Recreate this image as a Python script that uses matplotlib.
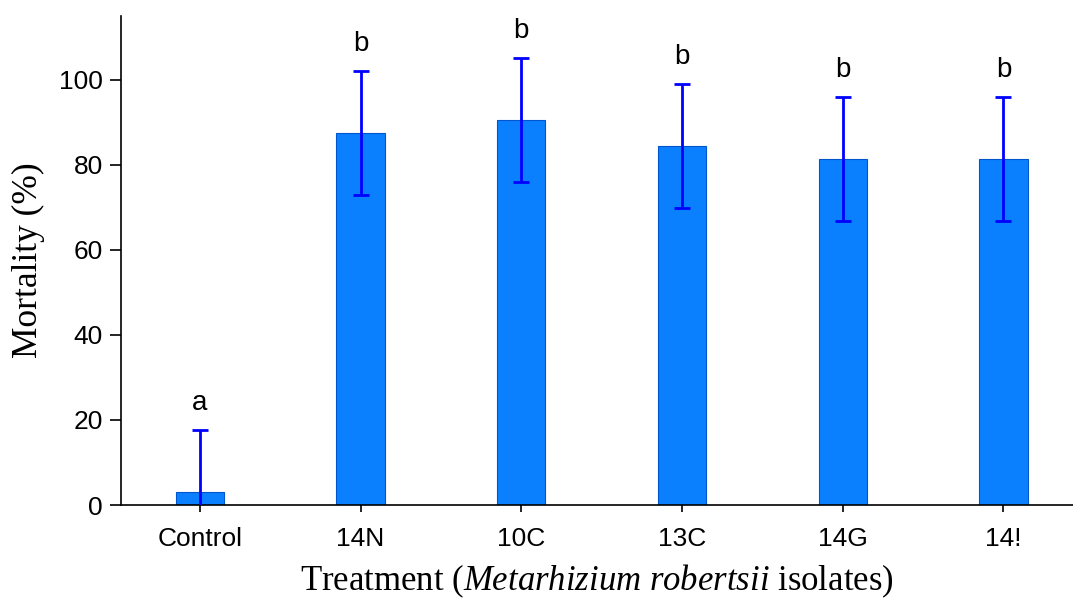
import matplotlib
matplotlib.use('Agg')
import matplotlib.pyplot as plt
import numpy as np

# data
treatments = ['Control', '14N', '10C', '13C', '14G', '14!']
mortality = [3.0, 87.5, 90.6, 84.4, 81.3, 81.3]
sd = [14.6, 14.6, 14.6, 14.6, 14.6, 14.6]
letters = ['a', 'b', 'b', 'b', 'b', 'b']

plt.rcParams['font.family'] = 'Liberation Sans'
plt.rcParams['mathtext.fontset'] = 'custom'
plt.rcParams['mathtext.rm'] = 'Liberation Serif'
plt.rcParams['mathtext.it'] = 'Liberation Serif:italic'

fig = plt.figure(figsize=(10.73, 5.99), dpi=100)
ax = fig.add_axes([0.1128, 0.1569, 0.8868, 0.8164])

x = np.arange(len(treatments))
ax.bar(x, mortality, width=0.3, color='#0A80FF', edgecolor='#0055CC', linewidth=0.8, zorder=2)
ax.errorbar(x, mortality, yerr=sd, fmt='none', ecolor='#0000FF',
            elinewidth=2, capsize=6, capthick=2, zorder=3)

# significance letters
for xi, m, s, l in zip(x, mortality, sd, letters):
    ax.text(xi, m + s + 3.3, l, ha='center', va='bottom', fontsize=20)

ax.set_xlim(-0.49, 5.43)
ax.set_ylim(0, 115)
ax.set_yticks([0, 20, 40, 60, 80, 100])
ax.set_xticks(x)
ax.set_xticklabels(treatments)
ax.tick_params(axis='both', labelsize=19, direction='out', width=1.2)
ax.tick_params(axis='y', length=8, pad=5)
ax.tick_params(axis='x', length=5, pad=11)

for side in ['top', 'right']:
    ax.spines[side].set_visible(False)
for side in ['left', 'bottom']:
    ax.spines[side].set_linewidth(1.2)

ax.set_ylabel('Mortality (%)', fontsize=25.5, family='Liberation Serif', labelpad=10)
ax.set_xlabel(r'Treatment ($\mathit{Metarhizium\ robertsii}$ isolates)',
              fontsize=25, family='Liberation Serif', labelpad=8)

fig.savefig('out.png', dpi=100)
